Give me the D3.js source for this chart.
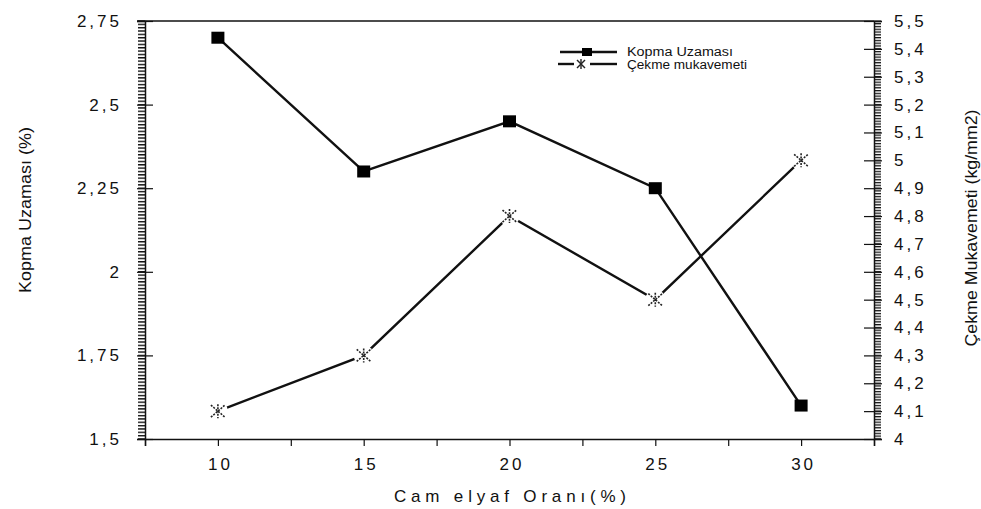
<!DOCTYPE html>
<html><head><meta charset="utf-8">
<script src="https://cdn.jsdelivr.net/npm/d3@7"></script>
<style>body{margin:0;background:#fff}svg{display:block}text{font-family:"Liberation Sans",Arial,sans-serif;fill:#111}</style>
</head><body>
<script>
const xValues=[10,15,20,25,30];
const kopmaUzamasi=[2.7,2.3,2.45,2.25,1.6];
const cekmeMukavemeti=[4.1,4.3,4.8,4.5,5.0];
const xTickLabels=[10,15,20,25,30];
const leftTicks=[1.5,1.75,2,2.25,2.5,2.75];
const rightTicks=[4,4.1,4.2,4.3,4.4,4.5,4.6,4.7,4.8,4.9,5,5.1,5.2,5.3,5.4,5.5];
const seriesNames=["Kopma Uzaması","Çekme mukavemeti"];
const xTitle="Cam elyaf Oranı(%)";
const leftTitle="Kopma Uzaması (%)";
const rightTitle="Çekme Mukavemeti (kg/mm2)";

const W=981,H=509;
const svg=d3.select("body").append("svg").attr("width",W).attr("height",H);
const x=d3.scaleLinear().domain([7.5,32.5]).range([145,874]);
const yL=d3.scaleLinear().domain([1.5,2.75]).range([439,21]);
const yR=d3.scaleLinear().domain([4,5.5]).range([439,21]);
const fmt=d=>String(d).replace(".",",");

// minor ticks via stripe patterns
const defs=svg.append("defs");
const stepL=yL(1.5)-yL(1.51), stepR=yR(4)-yR(4.01);
const patL=defs.append("pattern").attr("id","minorL").attr("patternUnits","userSpaceOnUse")
  .attr("x",0).attr("y",yL(2.75)-0.7).attr("width",8).attr("height",stepL);
patL.append("rect").attr("x",0).attr("y",0).attr("width",8).attr("height",1.4).attr("fill","#111");
const patR=defs.append("pattern").attr("id","minorR").attr("patternUnits","userSpaceOnUse")
  .attr("x",0).attr("y",yR(5.5)-0.7).attr("width",8).attr("height",stepR);
patR.append("rect").attr("x",0).attr("y",0).attr("width",8).attr("height",1.3).attr("fill","#111");
svg.append("rect").attr("x",138).attr("y",yL(2.75)-0.7).attr("width",7).attr("height",yL(1.5)-yL(2.75)+1.4).attr("fill","url(#minorL)");
svg.append("rect").attr("x",874).attr("y",yR(5.5)-0.7).attr("width",7).attr("height",yR(4)-yR(5.5)+1.4).attr("fill","url(#minorR)");

// frame top
svg.append("line").attr("x1",137).attr("x2",874).attr("y1",21).attr("y2",21).attr("stroke","#111").attr("stroke-width",1.5);

// left axis major
const gL=svg.append("g").attr("transform","translate(145,0)");
gL.call(d3.axisLeft(yL).tickValues(leftTicks).tickSize(8).tickFormat(fmt).tickPadding(18));
gL.selectAll("path.domain").attr("stroke","#111").attr("stroke-width",1.5);
gL.selectAll(".tick line").attr("stroke","#111").attr("stroke-width",1.2).attr("x1",8);
gL.selectAll("text").style("font-size","17px").style("letter-spacing","3px").attr("dx","3");

// right axis major
const gR=svg.append("g").attr("transform","translate(874,0)");
gR.call(d3.axisRight(yR).tickValues(rightTicks).tickSize(8).tickFormat(fmt).tickPadding(12));
gR.selectAll("path.domain").attr("stroke","#111").attr("stroke-width",1.5);
gR.selectAll(".tick line").attr("stroke","#111").attr("stroke-width",1.2).attr("x1",-10);
gR.selectAll("text").style("font-size","17px").style("letter-spacing","3px");

// bottom axis
const gB=svg.append("g").attr("transform","translate(0,439)");
gB.call(d3.axisBottom(x).tickValues(d3.range(7.5,32.6,2.5)).tickSize(7).tickFormat(d=>xTickLabels.includes(d)?d:"").tickPadding(12));
gB.selectAll("path.domain").attr("stroke","#111").attr("stroke-width",1.5);
gB.selectAll("line").attr("stroke","#111").attr("stroke-width",1.2);
gB.selectAll("text").style("font-size","17px").style("letter-spacing","3px").attr("dx","2");

// titles
svg.append("text").attr("x",510).attr("y",502).attr("text-anchor","middle").style("font-size","17px")
  .attr("textLength",232).attr("lengthAdjust","spacing").text(xTitle);
svg.append("text").attr("transform","translate(31,210) rotate(-90)").attr("text-anchor","middle").style("font-size","17px")
  .attr("textLength",166).attr("lengthAdjust","spacingAndGlyphs").text(leftTitle);
svg.append("text").attr("transform","translate(977,228) rotate(-90)").attr("text-anchor","middle").style("font-size","17px")
  .attr("textLength",237).attr("lengthAdjust","spacingAndGlyphs").text(rightTitle);

// series lines
const lineK=d3.line().x((d,i)=>x(xValues[i])).y(d=>yL(d));
const lineC=d3.line().x((d,i)=>x(xValues[i])).y(d=>yR(d));
svg.append("path").datum(cekmeMukavemeti).attr("d",lineC).attr("fill","none").attr("stroke","#111").attr("stroke-width",2.4);
svg.append("path").datum(kopmaUzamasi).attr("d",lineK).attr("fill","none").attr("stroke","#111").attr("stroke-width",2.4);

function star(g,cx,cy){
  g.append("circle").attr("cx",cx).attr("cy",cy).attr("r",10).attr("fill","#fff");
  const s=g.append("g").attr("stroke","#222").attr("stroke-width",1.6).attr("stroke-dasharray","2,1.2");
  s.append("line").attr("x1",cx).attr("x2",cx).attr("y1",cy-7).attr("y2",cy+7);
  s.append("line").attr("x1",cx-7).attr("x2",cx+7).attr("y1",cy-6).attr("y2",cy+6);
  s.append("line").attr("x1",cx-7).attr("x2",cx+7).attr("y1",cy+6).attr("y2",cy-6);
}
const gm=svg.append("g");
cekmeMukavemeti.forEach((v,i)=>star(gm,x(xValues[i]),yR(v)));
svg.append("g").selectAll("rect").data(kopmaUzamasi).join("rect")
  .attr("x",(d,i)=>x(xValues[i])-6.5).attr("y",d=>yL(d)-6).attr("width",13).attr("height",12).attr("fill","#000");

// legend
const lg=svg.append("g");
lg.append("line").attr("x1",560).attr("x2",617).attr("y1",52).attr("y2",52).attr("stroke","#111").attr("stroke-width",2.4);
lg.append("rect").attr("x",582).attr("y",48).attr("width",10).attr("height",8).attr("fill","#000");
lg.append("line").attr("x1",558).attr("x2",574).attr("y1",64).attr("y2",64).attr("stroke","#111").attr("stroke-width",2.4);
lg.append("line").attr("x1",590).attr("x2",617).attr("y1",64).attr("y2",64).attr("stroke","#111").attr("stroke-width",2.4);
const ls=lg.append("g").attr("stroke","#222").attr("stroke-width",1.4);
ls.append("line").attr("x1",581).attr("x2",581).attr("y1",59).attr("y2",69);
ls.append("line").attr("x1",577).attr("x2",585).attr("y1",60).attr("y2",68);
ls.append("line").attr("x1",577).attr("x2",585).attr("y1",68).attr("y2",60);
lg.append("text").attr("x",627).attr("y",56).style("font-size","12px").attr("textLength",106).attr("lengthAdjust","spacingAndGlyphs").text(seriesNames[0]);
lg.append("text").attr("x",627).attr("y",69).style("font-size","12px").attr("textLength",120).attr("lengthAdjust","spacingAndGlyphs").text(seriesNames[1]);
</script>
</body></html>
